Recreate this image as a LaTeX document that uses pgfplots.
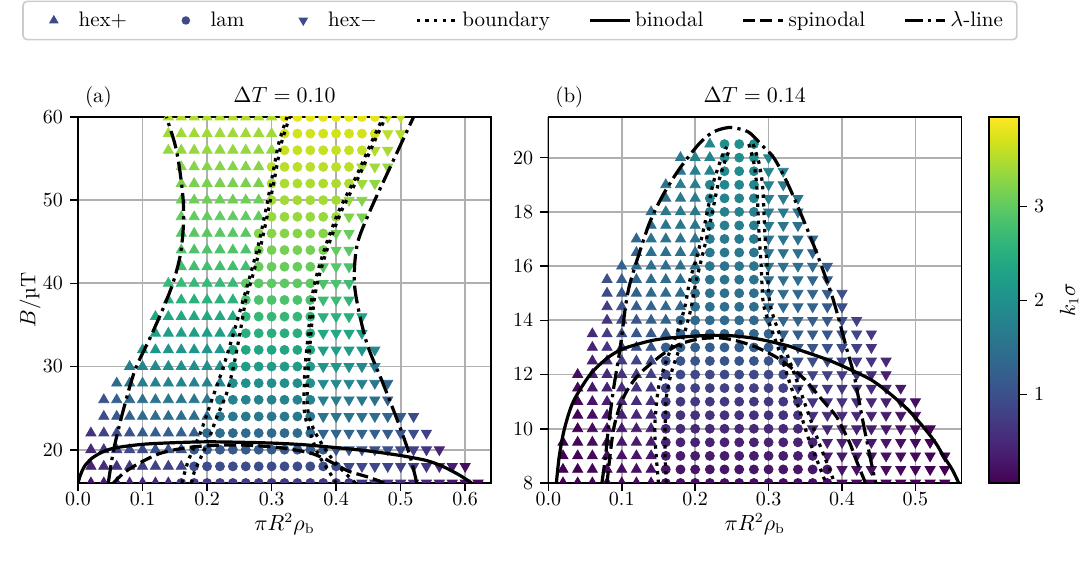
\documentclass[border=0pt]{standalone}
\usepackage{pgfplots}
\pgfplotsset{compat=1.18}
\usepackage{pgfplotstable}
\usepgfplotslibrary{colormaps}
\definecolor{gridc}{RGB}{176,176,176}
\definecolor{legc}{RGB}{62,74,137}
\definecolor{legframe}{RGB}{204,204,204}
\tikzset{
 cbnd/.style={black, line width=1.6pt, dash pattern=on 1.7pt off 2.6pt},
 cbin/.style={black, line width=1.6pt},
 cspi/.style={black, line width=1.6pt, dash pattern=on 6pt off 2.6pt},
 clam/.style={black, line width=1.6pt, dash pattern=on 9pt off 2.6pt on 1.6pt off 2.6pt},
}
\pgfplotsset{
 panel/.style={scale only axis, width=206.5pt, height=183pt,
   axis line style={line width=0.8pt}, tick style={line width=0.8pt, black},
   tick align=outside, major tick length=4pt, tick pos=left,
   grid=major, major grid style={gridc, line width=0.9pt},
   clip marker paths=true, colormap/viridis, point meta min=0.06, point meta max=3.95,
   tick label style={font=\fontsize{10}{12}\selectfont},
   label style={font=\fontsize{10.5}{12}\selectfont},
   xticklabel style={yshift=2.5pt, /pgf/number format/.cd, fixed, fixed zerofill, precision=1}},
 hp/.style={scatter, only marks, mark=triangle*, mark size=2.9pt, point meta=explicit,
   scatter/use mapped color={draw=mapped color, fill=mapped color}, forget plot},
 lm/.style={scatter, only marks, mark=*, mark size=2.25pt, point meta=explicit,
   scatter/use mapped color={draw=mapped color, fill=mapped color}, forget plot},
 hm/.style={scatter, only marks, mark=triangle*, mark size=2.9pt, mark options={rotate=180}, point meta=explicit,
   scatter/use mapped color={draw=mapped color, fill=mapped color}, forget plot},
}
% ---------------- panel (a) data: x  B  k1sigma
\pgfplotstableread[row sep=\\]{
x y c\\
0.14 60 3.5\\0.16 60 3.5\\0.18 60 3.5\\0.2 60 3.5\\0.22 60 3.5\\0.24 60 3.5\\0.26 60 3.5\\0.28 60 3.5\\0.3 60 3.5\\
0.14 58 3.4\\0.16 58 3.4\\0.18 58 3.4\\0.2 58 3.4\\0.22 58 3.4\\0.24 58 3.4\\0.26 58 3.4\\0.28 58 3.4\\0.3 58 3.4\\
0.14 56 3.33\\0.16 56 3.33\\0.18 56 3.33\\0.2 56 3.33\\0.22 56 3.33\\0.24 56 3.33\\0.26 56 3.33\\0.28 56 3.33\\0.3 56 3.33\\
0.16 54 3.25\\0.18 54 3.25\\0.2 54 3.25\\0.22 54 3.25\\0.24 54 3.25\\0.26 54 3.25\\0.28 54 3.25\\
0.16 52 3.17\\0.18 52 3.17\\0.2 52 3.17\\0.22 52 3.17\\0.24 52 3.17\\0.26 52 3.17\\0.28 52 3.17\\
0.16 50 3.1\\0.18 50 3.1\\0.2 50 3.1\\0.22 50 3.1\\0.24 50 3.1\\0.26 50 3.1\\0.28 50 3.1\\
0.16 48 3.02\\0.18 48 3.02\\0.2 48 3.02\\0.22 48 3.02\\0.24 48 3.02\\0.26 48 3.02\\0.28 48 3.02\\
0.16 46 2.95\\0.18 46 2.95\\0.2 46 2.95\\0.22 46 2.95\\0.24 46 2.95\\0.26 46 2.95\\
0.16 44 2.87\\0.18 44 2.87\\0.2 44 2.87\\0.22 44 2.87\\0.24 44 2.87\\0.26 44 2.87\\
0.16 42 2.78\\0.18 42 2.78\\0.2 42 2.78\\0.22 42 2.78\\0.24 42 2.78\\0.26 42 2.78\\
0.14 40 2.68\\0.16 40 2.68\\0.18 40 2.68\\0.2 40 2.68\\0.22 40 2.68\\0.24 40 2.68\\
0.14 38 2.55\\0.16 38 2.55\\0.18 38 2.55\\0.2 38 2.55\\0.22 38 2.55\\0.24 38 2.55\\
0.12 36 2.4\\0.14 36 2.4\\0.16 36 2.4\\0.18 36 2.4\\0.2 36 2.4\\0.22 36 2.4\\0.24 36 2.4\\
0.12 34 2.25\\0.14 34 2.25\\0.16 34 2.25\\0.18 34 2.25\\0.2 34 2.25\\0.22 34 2.25\\0.24 34 2.25\\
0.1 32 2.0\\0.12 32 2.1\\0.14 32 2.1\\0.16 32 2.1\\0.18 32 2.1\\0.2 32 2.1\\0.22 32 2.1\\
0.08 30 1.72\\0.1 30 1.86\\0.12 30 1.94\\0.14 30 2.0\\0.16 30 2.0\\0.18 30 2.0\\0.2 30 2.0\\0.22 30 2.0\\
0.06 28 1.4\\0.08 28 1.57\\0.1 28 1.69\\0.12 28 1.77\\0.14 28 1.82\\0.16 28 1.82\\0.18 28 1.82\\0.2 28 1.82\\0.22 28 1.82\\
0.04 26 1.05\\0.06 26 1.25\\0.08 26 1.39\\0.1 26 1.5\\0.12 26 1.57\\0.14 26 1.62\\0.16 26 1.62\\0.18 26 1.62\\0.2 26 1.62\\
0.04 24 0.96\\0.06 24 1.14\\0.08 24 1.27\\0.1 24 1.37\\0.12 24 1.43\\0.14 24 1.48\\0.16 24 1.48\\0.18 24 1.48\\0.2 24 1.48\\
0.02 22 0.63\\0.04 22 0.81\\0.06 22 0.96\\0.08 22 1.07\\0.1 22 1.16\\0.12 22 1.21\\0.14 22 1.25\\0.16 22 1.25\\0.18 22 1.25\\
0.02 20 0.52\\0.04 20 0.68\\0.06 20 0.81\\0.08 20 0.9\\0.1 20 0.98\\0.12 20 1.02\\0.14 20 1.05\\0.16 20 1.05\\
0.02 18 0.42\\0.04 18 0.55\\0.06 18 0.65\\0.08 18 0.73\\0.1 18 0.79\\0.12 18 0.82\\0.14 18 0.85\\0.16 18 0.85\\
0.02 16 0.28\\0.04 16 0.36\\0.06 16 0.42\\0.08 16 0.47\\0.1 16 0.51\\0.12 16 0.53\\0.14 16 0.55\\
}\hpA
\pgfplotstableread[row sep=\\]{
x y c\\
0.32 60 3.8\\0.34 60 3.8\\0.36 60 3.8\\0.38 60 3.8\\0.4 60 3.8\\0.42 60 3.8\\0.44 60 3.8\\0.46 60 3.8\\
0.32 58 3.7\\0.34 58 3.7\\0.36 58 3.7\\0.38 58 3.7\\0.4 58 3.7\\0.42 58 3.7\\0.44 58 3.7\\0.46 58 3.7\\
0.32 56 3.62\\0.34 56 3.62\\0.36 56 3.62\\0.38 56 3.62\\0.4 56 3.62\\0.42 56 3.62\\0.44 56 3.62\\
0.3 54 3.55\\0.32 54 3.55\\0.34 54 3.55\\0.36 54 3.55\\0.38 54 3.55\\0.4 54 3.55\\0.42 54 3.55\\
0.3 52 3.48\\0.32 52 3.48\\0.34 52 3.48\\0.36 52 3.48\\0.38 52 3.48\\0.4 52 3.48\\0.42 52 3.48\\
0.3 50 3.42\\0.32 50 3.42\\0.34 50 3.42\\0.36 50 3.42\\0.38 50 3.42\\0.4 50 3.42\\
0.3 48 3.35\\0.32 48 3.35\\0.34 48 3.35\\0.36 48 3.35\\0.38 48 3.35\\0.4 48 3.35\\
0.28 46 3.25\\0.3 46 3.25\\0.32 46 3.25\\0.34 46 3.25\\0.36 46 3.25\\0.38 46 3.25\\
0.28 44 3.15\\0.3 44 3.15\\0.32 44 3.15\\0.34 44 3.15\\0.36 44 3.15\\0.38 44 3.15\\
0.28 42 3.05\\0.3 42 3.05\\0.32 42 3.05\\0.34 42 3.05\\0.36 42 3.05\\
0.26 40 2.98\\0.28 40 2.98\\0.3 40 2.98\\0.32 40 2.98\\0.34 40 2.98\\0.36 40 2.98\\
0.26 38 2.85\\0.28 38 2.85\\0.3 38 2.85\\0.32 38 2.85\\0.34 38 2.85\\0.36 38 2.85\\
0.26 36 2.65\\0.28 36 2.65\\0.3 36 2.65\\0.32 36 2.65\\0.34 36 2.65\\0.36 36 2.65\\
0.26 34 2.5\\0.28 34 2.5\\0.3 34 2.5\\0.32 34 2.5\\0.34 34 2.5\\0.36 34 2.5\\
0.24 32 2.35\\0.26 32 2.35\\0.28 32 2.35\\0.3 32 2.35\\0.32 32 2.35\\0.34 32 2.35\\0.36 32 2.35\\
0.24 30 2.2\\0.26 30 2.2\\0.28 30 2.2\\0.3 30 2.2\\0.32 30 2.2\\0.34 30 2.2\\0.36 30 2.2\\
0.24 28 2.0\\0.26 28 2.0\\0.28 28 2.0\\0.3 28 2.0\\0.32 28 2.0\\0.34 28 2.0\\0.36 28 2.0\\
0.22 26 1.8\\0.24 26 1.8\\0.26 26 1.8\\0.28 26 1.8\\0.3 26 1.8\\0.32 26 1.8\\0.34 26 1.8\\0.36 26 1.8\\
0.22 24 1.62\\0.24 24 1.62\\0.26 24 1.62\\0.28 24 1.62\\0.3 24 1.62\\0.32 24 1.62\\0.34 24 1.62\\0.36 24 1.62\\
0.2 22 1.4\\0.22 22 1.4\\0.24 22 1.4\\0.26 22 1.4\\0.28 22 1.4\\0.3 22 1.4\\0.32 22 1.4\\0.34 22 1.4\\0.36 22 1.4\\
0.18 20 1.15\\0.2 20 1.15\\0.22 20 1.15\\0.24 20 1.15\\0.26 20 1.15\\0.28 20 1.15\\0.3 20 1.15\\0.32 20 1.15\\0.34 20 1.15\\0.36 20 1.15\\0.38 20 1.15\\
0.18 18 0.95\\0.2 18 0.95\\0.22 18 0.95\\0.24 18 0.95\\0.26 18 0.95\\0.28 18 0.95\\0.3 18 0.95\\0.32 18 0.95\\0.34 18 0.95\\0.36 18 0.95\\0.38 18 0.95\\0.4 18 0.95\\
0.16 16 0.7\\0.18 16 0.7\\0.2 16 0.7\\0.22 16 0.7\\0.24 16 0.7\\0.26 16 0.7\\0.28 16 0.7\\0.3 16 0.7\\0.32 16 0.7\\0.34 16 0.7\\0.36 16 0.7\\0.38 16 0.7\\0.4 16 0.7\\0.42 16 0.7\\
}\lmA
\pgfplotstableread[row sep=\\]{
x y c\\
0.48 60 3.65\\0.5 60 3.6\\
0.48 58 3.55\\0.5 58 3.5\\
0.46 56 3.5\\0.48 56 3.45\\
0.44 54 3.42\\0.46 54 3.42\\0.48 54 3.35\\
0.44 52 3.38\\0.46 52 3.3\\
0.42 50 3.3\\0.44 50 3.22\\
0.42 48 3.22\\0.44 48 3.15\\
0.4 46 3.12\\0.42 46 3.05\\
0.4 44 3.02\\0.42 44 2.95\\
0.38 42 2.93\\0.4 42 2.93\\0.42 42 2.85\\
0.38 40 2.85\\0.4 40 2.85\\0.42 40 2.75\\
0.38 38 2.72\\0.4 38 2.72\\0.42 38 2.6\\
0.38 36 2.55\\0.4 36 2.55\\0.42 36 2.5\\0.44 36 2.35\\
0.38 34 2.4\\0.4 34 2.4\\0.42 34 2.35\\0.44 34 2.2\\
0.38 32 2.25\\0.4 32 2.25\\0.42 32 2.2\\0.44 32 2.1\\0.46 32 1.9\\
0.38 30 2.1\\0.4 30 2.1\\0.42 30 2.0\\0.44 30 1.85\\0.46 30 1.6\\
0.38 28 1.9\\0.4 28 1.9\\0.42 28 1.85\\0.44 28 1.75\\0.46 28 1.6\\0.48 28 1.35\\
0.38 26 1.72\\0.4 26 1.72\\0.42 26 1.68\\0.44 26 1.58\\0.46 26 1.45\\0.48 26 1.2\\
0.38 24 1.55\\0.4 24 1.55\\0.42 24 1.55\\0.44 24 1.5\\0.46 24 1.45\\0.48 24 1.35\\0.5 24 1.2\\0.52 24 0.95\\
0.38 22 1.32\\0.4 22 1.32\\0.42 22 1.32\\0.44 22 1.3\\0.46 22 1.25\\0.48 22 1.18\\0.5 22 1.1\\0.52 22 0.95\\0.54 22 0.8\\
0.4 20 1.1\\0.42 20 1.1\\0.44 20 1.08\\0.46 20 1.05\\0.48 20 1.0\\0.5 20 0.92\\0.52 20 0.8\\0.54 20 0.65\\0.56 20 0.45\\
0.42 18 0.9\\0.44 18 0.9\\0.46 18 0.88\\0.48 18 0.85\\0.5 18 0.8\\0.52 18 0.75\\0.54 18 0.65\\0.56 18 0.5\\0.58 18 0.35\\0.6 18 0.2\\
0.44 16 0.65\\0.46 16 0.65\\0.48 16 0.62\\0.5 16 0.6\\0.52 16 0.55\\0.54 16 0.5\\0.56 16 0.42\\0.58 16 0.32\\0.6 16 0.2\\0.62 16 0.1\\
}\hmA
% ---------------- panel (b) data
\pgfplotstableread[row sep=\\]{
x y c\\
0.22 20.5 1.85\\
0.18 20 1.65\\0.2 20 1.8\\0.22 20 1.82\\
0.18 19.5 1.6\\0.2 19.5 1.75\\0.22 19.5 1.78\\
0.16 19 1.55\\0.18 19 1.7\\0.2 19 1.72\\
0.16 18.5 1.5\\0.18 18.5 1.65\\0.2 18.5 1.68\\
0.14 18 1.45\\0.16 18 1.6\\0.18 18 1.63\\0.2 18 1.63\\
0.14 17.5 1.4\\0.16 17.5 1.55\\0.18 17.5 1.58\\0.2 17.5 1.58\\
0.12 17 1.35\\0.14 17 1.5\\0.16 17 1.53\\0.18 17 1.53\\0.2 17 1.53\\
0.12 16.5 1.3\\0.14 16.5 1.45\\0.16 16.5 1.48\\0.18 16.5 1.48\\0.2 16.5 1.48\\
0.1 16 1.25\\0.12 16 1.38\\0.14 16 1.45\\0.16 16 1.47\\0.18 16 1.47\\0.2 16 1.47\\
0.08 15.5 1.0\\0.1 15.5 1.2\\0.12 15.5 1.35\\0.14 15.5 1.42\\0.16 15.5 1.44\\0.18 15.5 1.44\\
0.08 15 0.9\\0.1 15 1.12\\0.12 15 1.28\\0.14 15 1.36\\0.16 15 1.4\\0.18 15 1.4\\
0.08 14.5 0.75\\0.1 14.5 1.0\\0.12 14.5 1.18\\0.14 14.5 1.28\\0.16 14.5 1.34\\0.18 14.5 1.35\\
0.08 14 0.65\\0.1 14 0.9\\0.12 14 1.08\\0.14 14 1.2\\0.16 14 1.27\\
0.06 13.5 0.5\\0.08 13.5 0.75\\0.1 13.5 0.95\\0.12 13.5 1.08\\0.14 13.5 1.16\\0.16 13.5 1.2\\
0.06 13 0.42\\0.08 13 0.65\\0.1 13 0.85\\0.12 13 0.98\\0.14 13 1.06\\
0.06 12.5 0.37\\0.08 12.5 0.55\\0.1 12.5 0.72\\0.12 12.5 0.84\\0.14 12.5 0.92\\
0.04 12 0.2\\0.06 12 0.35\\0.08 12 0.5\\0.1 12 0.62\\0.12 12 0.72\\0.14 12 0.78\\
0.04 11.5 0.15\\0.06 11.5 0.3\\0.08 11.5 0.43\\0.1 11.5 0.54\\0.12 11.5 0.62\\0.14 11.5 0.68\\
0.04 11 0.1\\0.06 11 0.25\\0.08 11 0.37\\0.1 11 0.46\\0.12 11 0.53\\0.14 11 0.58\\
0.04 10.5 0.08\\0.06 10.5 0.2\\0.08 10.5 0.31\\0.1 10.5 0.4\\0.12 10.5 0.46\\0.14 10.5 0.5\\
0.04 10 0.06\\0.06 10 0.16\\0.08 10 0.26\\0.1 10 0.33\\0.12 10 0.38\\0.14 10 0.42\\
0.02 9.5 0.04\\0.04 9.5 0.1\\0.06 9.5 0.18\\0.08 9.5 0.25\\0.1 9.5 0.3\\0.12 9.5 0.34\\0.14 9.5 0.37\\
0.02 9 0.03\\0.04 9 0.08\\0.06 9 0.14\\0.08 9 0.2\\0.1 9 0.25\\0.12 9 0.28\\0.14 9 0.3\\
0.02 8.5 0.02\\0.04 8.5 0.06\\0.06 8.5 0.11\\0.08 8.5 0.16\\0.1 8.5 0.2\\0.12 8.5 0.22\\0.14 8.5 0.24\\
0.02 8 0.01\\0.04 8 0.04\\0.06 8 0.08\\0.08 8 0.12\\0.1 8 0.15\\0.12 8 0.17\\0.14 8 0.18\\
}\hpB
\pgfplotstableread[row sep=\\]{
x y c\\
0.24 20.5 2.0\\0.26 20.5 2.0\\0.28 20.5 2.0\\
0.24 20 1.95\\0.26 20 1.95\\0.28 20 1.95\\
0.24 19.5 1.9\\0.26 19.5 1.9\\0.28 19.5 1.9\\
0.22 19 1.85\\0.24 19 1.85\\0.26 19 1.85\\0.28 19 1.85\\
0.22 18.5 1.8\\0.24 18.5 1.8\\0.26 18.5 1.8\\0.28 18.5 1.8\\
0.22 18 1.75\\0.24 18 1.75\\0.26 18 1.75\\0.28 18 1.75\\
0.22 17.5 1.7\\0.24 17.5 1.7\\0.26 17.5 1.7\\0.28 17.5 1.7\\
0.22 17 1.65\\0.24 17 1.65\\0.26 17 1.65\\0.28 17 1.65\\
0.22 16.5 1.6\\0.24 16.5 1.6\\0.26 16.5 1.6\\0.28 16.5 1.6\\
0.22 16 1.58\\0.24 16 1.58\\0.26 16 1.58\\0.28 16 1.58\\
0.2 15.5 1.55\\0.22 15.5 1.55\\0.24 15.5 1.55\\0.26 15.5 1.55\\0.28 15.5 1.55\\
0.2 15 1.5\\0.22 15 1.5\\0.24 15 1.5\\0.26 15 1.5\\0.28 15 1.5\\
0.2 14.5 1.45\\0.22 14.5 1.45\\0.24 14.5 1.45\\0.26 14.5 1.45\\0.28 14.5 1.45\\
0.18 14 1.38\\0.2 14 1.38\\0.22 14 1.38\\0.24 14 1.38\\0.26 14 1.38\\0.28 14 1.38\\
0.18 13.5 1.3\\0.2 13.5 1.3\\0.22 13.5 1.3\\0.24 13.5 1.3\\0.26 13.5 1.3\\0.28 13.5 1.3\\0.3 13.5 1.3\\
0.16 13 1.2\\0.18 13 1.2\\0.2 13 1.2\\0.22 13 1.2\\0.24 13 1.2\\0.26 13 1.2\\0.28 13 1.2\\0.3 13 1.2\\
0.16 12.5 1.05\\0.18 12.5 1.05\\0.2 12.5 1.05\\0.22 12.5 1.05\\0.24 12.5 1.05\\0.26 12.5 1.05\\0.28 12.5 1.05\\0.3 12.5 1.05\\0.32 12.5 1.05\\
0.16 12 0.9\\0.18 12 0.9\\0.2 12 0.9\\0.22 12 0.9\\0.24 12 0.9\\0.26 12 0.9\\0.28 12 0.9\\0.3 12 0.9\\0.32 12 0.9\\
0.16 11.5 0.8\\0.18 11.5 0.8\\0.2 11.5 0.8\\0.22 11.5 0.8\\0.24 11.5 0.8\\0.26 11.5 0.8\\0.28 11.5 0.8\\0.3 11.5 0.8\\0.32 11.5 0.8\\
0.16 11 0.68\\0.18 11 0.68\\0.2 11 0.68\\0.22 11 0.68\\0.24 11 0.68\\0.26 11 0.68\\0.28 11 0.68\\0.3 11 0.68\\0.32 11 0.68\\0.34 11 0.68\\
0.16 10.5 0.6\\0.18 10.5 0.6\\0.2 10.5 0.6\\0.22 10.5 0.6\\0.24 10.5 0.6\\0.26 10.5 0.6\\0.28 10.5 0.6\\0.3 10.5 0.6\\0.32 10.5 0.6\\0.34 10.5 0.6\\
0.16 10 0.5\\0.18 10 0.5\\0.2 10 0.5\\0.22 10 0.5\\0.24 10 0.5\\0.26 10 0.5\\0.28 10 0.5\\0.3 10 0.5\\0.32 10 0.5\\0.34 10 0.5\\
0.16 9.5 0.42\\0.18 9.5 0.42\\0.2 9.5 0.42\\0.22 9.5 0.42\\0.24 9.5 0.42\\0.26 9.5 0.42\\0.28 9.5 0.42\\0.3 9.5 0.42\\0.32 9.5 0.42\\0.34 9.5 0.42\\0.36 9.5 0.42\\
0.16 9 0.35\\0.18 9 0.35\\0.2 9 0.35\\0.22 9 0.35\\0.24 9 0.35\\0.26 9 0.35\\0.28 9 0.35\\0.3 9 0.35\\0.32 9 0.35\\0.34 9 0.35\\0.36 9 0.35\\
0.16 8.5 0.28\\0.18 8.5 0.28\\0.2 8.5 0.28\\0.22 8.5 0.28\\0.24 8.5 0.28\\0.26 8.5 0.28\\0.28 8.5 0.28\\0.3 8.5 0.28\\0.32 8.5 0.28\\0.34 8.5 0.28\\0.36 8.5 0.28\\0.38 8.5 0.28\\
0.16 8 0.2\\0.18 8 0.2\\0.2 8 0.2\\0.22 8 0.2\\0.24 8 0.2\\0.26 8 0.2\\0.28 8 0.2\\0.3 8 0.2\\0.32 8 0.2\\0.34 8 0.2\\0.36 8 0.2\\0.38 8 0.2\\
}\lmB
\pgfplotstableread[row sep=\\]{
x y c\\
0.3 20 1.85\\
0.3 19.5 1.82\\0.32 19.5 1.7\\
0.3 19 1.78\\0.32 19 1.65\\
0.3 18.5 1.72\\0.32 18.5 1.7\\0.34 18.5 1.55\\
0.3 18 1.68\\0.32 18 1.65\\0.34 18 1.5\\
0.3 17.5 1.63\\0.32 17.5 1.6\\0.34 17.5 1.45\\
0.3 17 1.58\\0.32 17 1.56\\0.34 17 1.5\\0.36 17 1.35\\
0.3 16.5 1.53\\0.32 16.5 1.52\\0.34 16.5 1.45\\0.36 16.5 1.3\\
0.3 16 1.5\\0.32 16 1.5\\0.34 16 1.45\\0.36 16 1.38\\0.38 16 1.2\\
0.3 15.5 1.48\\0.32 15.5 1.47\\0.34 15.5 1.42\\0.36 15.5 1.35\\0.38 15.5 1.15\\
0.3 15 1.43\\0.32 15 1.42\\0.34 15 1.38\\0.36 15 1.3\\0.38 15 1.2\\0.4 15 1.0\\
0.3 14.5 1.38\\0.32 14.5 1.37\\0.34 14.5 1.33\\0.36 14.5 1.27\\0.38 14.5 1.15\\0.4 14.5 0.95\\
0.3 14 1.32\\0.32 14 1.3\\0.34 14 1.28\\0.36 14 1.22\\0.38 14 1.12\\0.4 14 1.0\\0.42 14 0.8\\
0.32 13.5 1.24\\0.34 13.5 1.22\\0.36 13.5 1.17\\0.38 13.5 1.1\\0.4 13.5 1.0\\0.42 13.5 0.87\\0.44 13.5 0.7\\
0.32 13 1.14\\0.34 13 1.12\\0.36 13 1.08\\0.38 13 1.02\\0.4 13 0.92\\0.42 13 0.8\\0.44 13 0.62\\
0.34 12.5 1.0\\0.36 12.5 0.97\\0.38 12.5 0.92\\0.4 12.5 0.85\\0.42 12.5 0.76\\0.44 12.5 0.65\\0.46 12.5 0.5\\
0.34 12 0.86\\0.36 12 0.84\\0.38 12 0.8\\0.4 12 0.74\\0.42 12 0.66\\0.44 12 0.55\\0.46 12 0.4\\
0.34 11.5 0.76\\0.36 11.5 0.75\\0.38 11.5 0.72\\0.4 11.5 0.68\\0.42 11.5 0.62\\0.44 11.5 0.55\\0.46 11.5 0.45\\0.48 11.5 0.32\\
0.36 11 0.65\\0.38 11 0.63\\0.4 11 0.6\\0.42 11 0.55\\0.44 11 0.48\\0.46 11 0.4\\0.48 11 0.3\\0.5 11 0.2\\
0.36 10.5 0.57\\0.38 10.5 0.56\\0.4 10.5 0.53\\0.42 10.5 0.49\\0.44 10.5 0.43\\0.46 10.5 0.36\\0.48 10.5 0.27\\0.5 10.5 0.17\\
0.36 10 0.48\\0.38 10 0.47\\0.4 10 0.45\\0.42 10 0.42\\0.44 10 0.37\\0.46 10 0.31\\0.48 10 0.24\\0.5 10 0.16\\0.52 10 0.08\\
0.38 9.5 0.4\\0.4 9.5 0.39\\0.42 9.5 0.36\\0.44 9.5 0.32\\0.46 9.5 0.27\\0.48 9.5 0.21\\0.5 9.5 0.14\\0.52 9.5 0.07\\
0.38 9 0.33\\0.4 9 0.32\\0.42 9 0.3\\0.44 9 0.27\\0.46 9 0.23\\0.48 9 0.18\\0.5 9 0.13\\0.52 9 0.08\\0.54 9 0.04\\
0.4 8.5 0.26\\0.42 8.5 0.24\\0.44 8.5 0.21\\0.46 8.5 0.18\\0.48 8.5 0.14\\0.5 8.5 0.1\\0.52 8.5 0.06\\0.54 8.5 0.03\\
0.4 8 0.18\\0.42 8 0.17\\0.44 8 0.15\\0.46 8 0.12\\0.48 8 0.1\\0.5 8 0.07\\0.52 8 0.04\\0.54 8 0.02\\
}\hmB
\begin{document}
\begin{tikzpicture}
\useasboundingbox (0,0) rectangle (540.5pt,280.5pt);
% ================= panel (a)
\begin{axis}[panel, name=A, at={(39pt,39pt)}, anchor=south west,
  xmin=0, xmax=0.64, ymin=16, ymax=60,
  xtick={0,0.1,0.2,0.3,0.4,0.5,0.6}, ytick={20,30,40,50,60},
  xlabel={$\pi R^2\rho_{\mathrm{b}}$}, ylabel={$B$/µT},
  xlabel style={at={(axis description cs:0.5,-0.13)}, anchor=base},
  ylabel style={at={(axis description cs:-0.116,0.5)}, anchor=center},
  legend columns=7,
  legend style={at={(1.0702,1.2637)}, anchor=center, draw=legframe, line width=0.8pt,
    rounded corners=2pt, font=\fontsize{10.5}{12}\selectfont, inner xsep=5pt, inner ysep=3pt,
    /tikz/every even column/.append style={column sep=17pt}},
  legend image code/.code={\draw[#1] (0pt,0pt) -- (20pt,0pt);},
]
\addplot[hp] table[x=x, y=y, meta=c] {\hpA};
\addplot[lm] table[x=x, y=y, meta=c] {\lmA};
\addplot[hm] table[x=x, y=y, meta=c] {\hmA};
% boundary
\addplot[cbnd, smooth, forget plot] coordinates {(0.161,16) (0.171,18.7) (0.189,21.9) (0.207,25.9) (0.225,29.9) (0.241,34) (0.256,38) (0.267,41) (0.28,44.8) (0.291,48.8) (0.301,52.8) (0.311,56.8) (0.324,60)};
\addplot[cbnd, smooth, forget plot] coordinates {(0.176,16) (0.181,17.5) (0.2,20.7) (0.215,23.9) (0.23,26.7) (0.241,30) (0.251,34) (0.26,38) (0.271,41) (0.284,44.8) (0.295,48.8) (0.305,52.8) (0.315,56.8) (0.328,60)};
\addplot[cbnd, smooth, forget plot] coordinates {(0.4,16) (0.388,17.5) (0.372,19.5) (0.36,22) (0.352,24) (0.35,26) (0.352,30) (0.357,34) (0.362,38) (0.37,41) (0.386,45) (0.406,49) (0.432,53) (0.455,57) (0.473,60)};
\addplot[cbnd, smooth, forget plot] coordinates {(0.43,16) (0.41,17.5) (0.388,19.5) (0.368,22) (0.358,24) (0.355,26) (0.357,30) (0.361,34) (0.366,38) (0.374,41) (0.39,45) (0.41,49) (0.436,53) (0.459,57) (0.477,60)};
% binodal
\addplot[cbin, smooth, forget plot] coordinates {(0,16) (0.004,17) (0.01,18) (0.022,19) (0.04,19.8) (0.06,20.25) (0.1,20.65) (0.15,20.85) (0.2,20.95) (0.25,20.9) (0.3,20.8) (0.35,20.6) (0.4,20.25) (0.45,19.85) (0.5,19.3) (0.54,18.7) (0.565,18.0) (0.59,17.0) (0.61,16)};
% spinodal
\addplot[cspi, smooth, forget plot] coordinates {(0.055,16) (0.065,16.8) (0.078,17.6) (0.1,18.6) (0.125,19.5) (0.15,20.0) (0.18,20.35) (0.22,20.55) (0.26,20.55) (0.3,20.35) (0.33,20.05) (0.36,19.6) (0.38,19.0) (0.4,18.2) (0.42,17.4) (0.45,16.7) (0.475,16)};
% lambda line
\addplot[clam, smooth, forget plot] coordinates {(0.047,16) (0.055,19.9) (0.07,24.7) (0.088,29.5) (0.112,33.5) (0.132,37) (0.147,40) (0.158,43.2) (0.163,46.5) (0.163,50) (0.157,54) (0.15,56.8) (0.137,60)};
\addplot[clam, smooth, forget plot] coordinates {(0.525,16) (0.515,19.1) (0.499,22.7) (0.473,27.9) (0.448,32.7) (0.433,37.5) (0.428,40.7) (0.433,44.8) (0.453,48.8) (0.484,54) (0.52,60)};
% legend
\addlegendimage{legend image code/.code={\path (0pt,0pt) (20pt,0pt); \draw[legc, fill=legc] plot[mark=triangle*, mark size=2pt, only marks] coordinates {(10pt,0pt)};}}
\addlegendentry{hex+}
\addlegendimage{legend image code/.code={\path (0pt,0pt) (20pt,0pt); \draw[legc, fill=legc] plot[mark=*, mark size=1.7pt, only marks] coordinates {(10pt,0pt)};}}
\addlegendentry{lam}
\addlegendimage{legend image code/.code={\path (0pt,0pt) (20pt,0pt); \draw[legc, fill=legc] plot[mark=triangle*, mark size=2pt, mark options={rotate=180}, only marks] coordinates {(10pt,0pt)};}}
\addlegendentry{hex$-$}
\addlegendimage{cbnd}
\addlegendentry{boundary}
\addlegendimage{cbin}
\addlegendentry{binodal}
\addlegendimage{cspi}
\addlegendentry{spinodal}
\addlegendimage{clam}
\addlegendentry{$\lambda$-line}
\end{axis}
% ================= panel (b)
\begin{axis}[panel, name=B, at={(274.15pt,39pt)}, anchor=south west,
  xmin=0, xmax=0.5625, ymin=8, ymax=21.5,
  xtick={0,0.1,0.2,0.3,0.4,0.5}, ytick={8,10,12,14,16,18,20},
  xlabel={$\pi R^2\rho_{\mathrm{b}}$},
  xlabel style={at={(axis description cs:0.5,-0.13)}, anchor=base},
  colorbar,
  colorbar style={at={(1.067,1)}, anchor=north west, width=15pt,
    ytick={1,2,3}, ytick pos=right, yticklabel pos=right, tick align=outside,
    major tick length=4pt, axis line style={line width=0.8pt}, tick style={line width=0.8pt, black},
    yticklabel style={font=\fontsize{10}{12}\selectfont},
    ylabel={$k_1\sigma$}, ylabel style={font=\fontsize{10.5}{12}\selectfont, at={(axis description cs:2.67,0.5)}, anchor=center}},
]
\addplot[hp] table[x=x, y=y, meta=c] {\hpB};
\addplot[lm] table[x=x, y=y, meta=c] {\lmB};
\addplot[hm] table[x=x, y=y, meta=c] {\hmB};
% boundary
\addplot[cbnd, smooth, forget plot] coordinates {(0.15,8) (0.147,9) (0.145,10.06) (0.15,11.5) (0.161,12.52) (0.175,13.5) (0.186,14.5) (0.193,15.5) (0.202,16.3) (0.211,17.3) (0.218,18.2) (0.225,19.1) (0.236,20.0) (0.243,20.4)};
\addplot[cbnd, smooth, forget plot] coordinates {(0.161,8) (0.159,9) (0.159,10.06) (0.161,11.2) (0.169,12.2) (0.183,13.3) (0.194,14.4) (0.201,15.4) (0.209,16.3) (0.218,17.3) (0.225,18.2) (0.232,19.1) (0.241,19.9) (0.247,20.3)};
\addplot[cbnd, smooth, forget plot] coordinates {(0.273,20.5) (0.28,19.8) (0.284,18.9) (0.287,17.2) (0.29,16) (0.293,14.6) (0.305,13.6) (0.318,12.6) (0.33,11.6) (0.343,10.6) (0.355,9.6) (0.368,8.7) (0.378,8)};
\addplot[cbnd, smooth, forget plot] coordinates {(0.279,20.5) (0.287,19.8) (0.292,18.9) (0.295,17.2) (0.298,16) (0.302,14.6) (0.316,13.4) (0.33,12.4) (0.342,11.5) (0.355,10.5) (0.367,9.6) (0.38,8.7) (0.39,8)};
% binodal
\addplot[cbin, smooth, forget plot] coordinates {(0.011,8) (0.015,9) (0.022,10) (0.034,11) (0.057,12) (0.08,12.6) (0.102,12.95) (0.14,13.25) (0.17,13.36) (0.216,13.44) (0.25,13.43) (0.284,13.32) (0.325,13.07) (0.343,12.9) (0.38,12.55) (0.41,12.2) (0.44,11.8) (0.465,11.3) (0.49,10.7) (0.511,10.06) (0.527,9.5) (0.539,8.96) (0.55,8.5) (0.559,8)};
% spinodal
\addplot[cspi, smooth, forget plot] coordinates {(0.08,8) (0.084,9) (0.089,10) (0.097,10.8) (0.107,11.4) (0.12,11.9) (0.134,12.27) (0.157,12.77) (0.18,13.13) (0.207,13.32) (0.235,13.35) (0.26,13.22) (0.284,13.0) (0.31,12.65) (0.33,12.27) (0.35,11.8) (0.366,11.29) (0.38,10.85) (0.393,10.43) (0.403,9.9) (0.411,9.45) (0.42,8.8) (0.432,8)};
% lambda line
\addplot[clam, smooth, forget plot] coordinates {(0.073,8) (0.078,9) (0.082,10.06) (0.089,11.5) (0.098,13) (0.105,14.48) (0.111,15.34) (0.125,16.57) (0.139,17.67) (0.157,18.66) (0.18,19.64) (0.207,20.56) (0.225,20.95) (0.245,21.11) (0.262,21.05) (0.275,20.9) (0.293,20.4) (0.307,20.0) (0.325,19.1) (0.348,17.67) (0.366,16.45) (0.384,15.1) (0.393,14.3) (0.407,12.89) (0.417,11.9) (0.43,10.06) (0.443,8.35) (0.446,8)};
\end{axis}
\node[anchor=base west, font=\fontsize{10.5}{12}\selectfont] at ([yshift=7pt]A.north west) {(a)};
\node[anchor=base, font=\fontsize{10.5}{12}\selectfont] at ([yshift=7pt]A.north) {$\Delta T = 0.10$};
\node[anchor=base west, font=\fontsize{10.5}{12}\selectfont] at ([yshift=7pt]B.north west) {(b)};
\node[anchor=base, font=\fontsize{10.5}{12}\selectfont] at ([yshift=7pt]B.north) {$\Delta T = 0.14$};
\end{tikzpicture}
\end{document}
